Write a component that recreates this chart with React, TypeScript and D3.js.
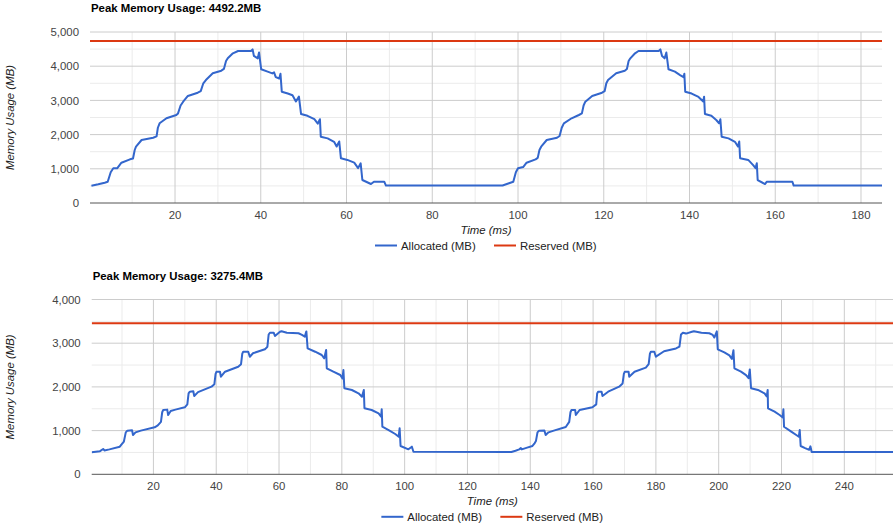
import React from "react";
import * as d3 from "d3";

// ---------- DATA ----------
const topTitle = "Peak Memory Usage: 4492.2MB";
const bottomTitle = "Peak Memory Usage: 3275.4MB";
const seriesNames = ["Allocated (MB)", "Reserved (MB)"];
const xAxisTitle = "Time (ms)";
const yAxisTitle = "Memory Usage (MB)";

const topXTicks = [20, 40, 60, 80, 100, 120, 140, 160, 180];
const topYTicks = [0, 1000, 2000, 3000, 4000, 5000];
const bottomXTicks = [20, 40, 60, 80, 100, 120, 140, 160, 180, 200, 220, 240];
const bottomYTicks = [0, 1000, 2000, 3000, 4000];

const topReserved: [number, number][] = [[0.17, 4740], [184.9, 4740]];
const bottomReserved: [number, number][] = [[0.35, 3455], [255.5, 3455]];

const topAllocated: [number, number][] = [
  [0.5, 506], [2.1, 547], [3.6, 594], [4.3, 620], [5.0, 900], [5.6, 1015], [6.5, 1015], [7.5, 1178],
  [9.5, 1277], [10.2, 1300], [10.6, 1550], [10.9, 1646], [12.2, 1842], [14.9, 1909], [15.7, 1950],
  [16.0, 2200], [16.4, 2330], [18.0, 2477], [20.3, 2573], [20.7, 2620], [21.3, 2850], [21.9, 2962],
  [23.0, 3129], [25.3, 3225], [26.0, 3270], [26.6, 3500], [27.2, 3596], [28.8, 3792], [30.8, 3869],
  [31.4, 3920], [31.9, 4150], [32.3, 4230], [33.5, 4377], [34.7, 4444], [37.7, 4444], [38.1, 4492],
  [38.4, 4300], [39.3, 4230], [39.6, 4400], [40.1, 3909], [41.6, 3840], [42.7, 3790], [43.1, 3820],
  [43.5, 3680], [44.3, 3640], [44.6, 3780], [44.9, 3255], [46.3, 3200], [47.4, 3150], [48.2, 2970],
  [48.9, 3110], [49.4, 2602], [50.9, 2550], [52.5, 2450], [53.3, 2320], [53.8, 2450], [54.0, 1939],
  [55.6, 1890], [57.1, 1790], [57.7, 1650], [58.3, 1800], [58.7, 1307], [60.2, 1260], [61.8, 1180],
  [62.7, 1020], [63.3, 1160], [63.7, 672], [65.7, 555], [66.4, 623], [68.8, 623], [69.2, 510],
  [96.4, 510], [97.9, 576], [98.9, 620], [99.5, 900], [100.0, 1015], [101.2, 1050], [102.0, 1178],
  [104.1, 1277], [104.6, 1320], [105.0, 1550], [105.4, 1646], [106.7, 1842], [109.1, 1909],
  [109.7, 1960], [110.2, 2200], [110.7, 2330], [112.5, 2477], [114.2, 2573], [114.9, 2620],
  [115.3, 2850], [115.7, 2962], [117.3, 3129], [119.6, 3225], [120.2, 3270], [120.6, 3500],
  [121.0, 3596], [122.9, 3792], [124.9, 3869], [125.4, 3920], [125.8, 4150], [126.2, 4230],
  [127.3, 4377], [128.1, 4444], [132.8, 4444], [133.2, 4492], [133.6, 4300], [134.2, 4230],
  [134.6, 4400], [135.1, 3909], [136.6, 3840], [137.8, 3740], [138.6, 3680], [138.8, 3780],
  [139.0, 3255], [140.5, 3200], [142.1, 3100], [143.2, 2970], [143.4, 3110], [143.6, 2602],
  [145.1, 2550], [146.3, 2420], [146.9, 2330], [147.2, 2450], [147.5, 1939], [149.1, 1890],
  [150.6, 1790], [151.3, 1650], [151.6, 1800], [151.8, 1307], [153.7, 1260], [154.9, 1100],
  [155.4, 1020], [155.7, 1160], [155.9, 672], [157.6, 555], [158.0, 620], [164.0, 620],
  [164.3, 510], [184.9, 510],
];

const bottomAllocated: [number, number][] = [
  [0.35, 503], [3.0, 530], [4.0, 580], [4.4, 545], [6.0, 570], [9.3, 632], [9.8, 680], [10.6, 750],
  [11.2, 960], [11.7, 998], [13.2, 1010], [13.5, 899], [14.3, 960], [16.0, 1000], [20.4, 1075],
  [21.4, 1120], [22.4, 1200], [22.8, 1420], [23.1, 1471], [24.4, 1480], [24.7, 1357], [25.5, 1450],
  [27.0, 1480], [30.0, 1533], [30.8, 1600], [31.2, 1850], [31.6, 1890], [32.7, 1900], [33.0, 1792],
  [34.2, 1880], [38.5, 2005], [39.4, 2060], [39.8, 2300], [40.1, 2348], [41.2, 2348], [41.5, 2233],
  [42.8, 2348], [47.0, 2462], [47.9, 2520], [48.3, 2760], [48.6, 2805], [50.2, 2805], [50.7, 2691],
  [51.7, 2770], [55.5, 2860], [56.3, 2920], [56.7, 3200], [57.1, 3240], [58.3, 3240], [58.7, 3165],
  [60.3, 3263], [60.8, 3275], [62.5, 3240], [66.2, 3227], [67.3, 3190], [68.2, 3150], [68.7, 3270],
  [69.1, 2883], [71.5, 2805], [73.6, 2730], [74.4, 2654], [75.0, 2844], [75.2, 2426], [77.3, 2348],
  [79.5, 2272], [80.2, 2196], [80.5, 2387], [80.8, 1968], [83.2, 1929], [85.3, 1853], [86.4, 1776],
  [87.0, 1929], [87.2, 1510], [89.5, 1471], [91.7, 1395], [92.5, 1319], [92.7, 1487], [92.9, 1089],
  [94.9, 1013], [97.0, 922], [98.1, 861], [98.4, 1052], [98.7, 648], [101.2, 572], [102.3, 632],
  [102.8, 517], [134.0, 510], [135.3, 540], [136.5, 570], [137.0, 600], [137.3, 570], [139.0, 610],
  [140.7, 648], [141.3, 700], [141.8, 760], [142.3, 960], [142.8, 998], [144.5, 1000], [144.9, 899],
  [145.8, 960], [147.5, 1000], [151.3, 1083], [152.4, 1200], [152.8, 1420], [153.1, 1471],
  [154.3, 1471], [154.5, 1357], [155.7, 1471], [159.8, 1533], [161.0, 1600], [161.3, 1850],
  [161.6, 1890], [162.7, 1890], [163.0, 1792], [164.8, 1890], [168.3, 2005], [169.4, 2080],
  [169.8, 2300], [170.1, 2348], [171.3, 2348], [171.5, 2233], [173.2, 2348], [176.8, 2440],
  [177.7, 2520], [178.1, 2760], [178.4, 2805], [179.5, 2805], [180.0, 2691], [182.6, 2815],
  [186.4, 2880], [187.5, 2920], [188.0, 3200], [188.6, 3240], [189.6, 3220], [191.5, 3263],
  [192.1, 3275], [194.5, 3240], [197.0, 3227], [198.1, 3190], [198.6, 3130], [199.4, 3270],
  [199.7, 2860], [201.8, 2790], [203.4, 2720], [204.2, 2640], [204.7, 2840], [205.0, 2426],
  [207.1, 2350], [208.7, 2270], [209.5, 2200], [209.9, 2400], [210.3, 1968], [212.5, 1930],
  [214.6, 1853], [215.3, 1780], [215.6, 1930], [215.7, 1510], [217.8, 1433], [219.4, 1357],
  [220.4, 1300], [220.6, 1487], [220.8, 1089], [223.1, 975], [224.7, 899], [225.5, 860],
  [225.8, 1013], [226.1, 648], [227.5, 600], [228.8, 560], [229.2, 640], [229.6, 510], [255.5, 510],
];

// ---------- STYLE ----------
const FONT = "'Liberation Sans', Arial, sans-serif";
const BLUE = "#3366cc";
const RED = "#dc3912";
const FS = 11.4;

type ChartProps = {
  id: string;
  title: string;
  titleY: number;
  left: number;
  right: number;
  top: number;
  bottom: number;
  xDomain: [number, number];
  yMax: number;
  xTicks: number[];
  yTicks: number[];
  allocated: [number, number][];
  reserved: [number, number][];
};

function Chart(p: ChartProps) {
  const x = d3.scaleLinear().domain(p.xDomain).range([p.left, p.right]);
  const y = d3.scaleLinear().domain([0, p.yMax]).range([p.bottom, p.top]);
  const line = d3
    .line<[number, number]>()
    .x((d) => x(d[0]))
    .y((d) => y(d[1]));

  const xMinor = d3.range(10, p.xDomain[1], 20).filter((v) => v > p.xDomain[0]);
  const yMinor = d3.range(500, p.yMax, 1000);
  const cx = (p.left + p.right) / 2;
  const cy = (p.top + p.bottom) / 2;
  const legendY = p.bottom + 42.5;
  const legendStart = cx - 111;

  return (
    <g>
      <defs>
        <clipPath id={p.id}>
          <rect x={p.left} y={p.top - 5} width={p.right - p.left} height={p.bottom - p.top + 5} />
        </clipPath>
      </defs>
      <text x={p.left + 1} y={p.titleY} fontFamily={FONT} fontSize={FS} fontWeight="bold" fill="#000">
        {p.title}
      </text>
      {/* minor grid */}
      {xMinor.map((v) => (
        <line key={"xm" + v} x1={x(v)} x2={x(v)} y1={p.top} y2={p.bottom} stroke="#ebebeb" strokeWidth={1} />
      ))}
      {yMinor.map((v) => (
        <line key={"ym" + v} x1={p.left} x2={p.right} y1={y(v)} y2={y(v)} stroke="#ebebeb" strokeWidth={1} />
      ))}
      {/* major grid */}
      {p.xTicks.map((v) => (
        <line key={"xg" + v} x1={x(v)} x2={x(v)} y1={p.top} y2={p.bottom} stroke="#cccccc" strokeWidth={1} />
      ))}
      {p.yTicks
        .filter((v) => v > 0)
        .map((v) => (
          <line key={"yg" + v} x1={p.left} x2={p.right} y1={y(v)} y2={y(v)} stroke="#cccccc" strokeWidth={1} />
        ))}
      {/* baseline */}
      <line x1={p.left} x2={p.right} y1={y(0)} y2={y(0)} stroke="#555" strokeWidth={1} />
      {/* tick labels */}
      {p.yTicks.map((v) => (
        <text
          key={"yl" + v}
          x={p.left - 11}
          y={y(v)}
          dy="0.36em"
          textAnchor="end"
          fontFamily={FONT}
          fontSize={FS}
          fill="#444"
        >
          {d3.format(",")(v)}
        </text>
      ))}
      {p.xTicks.map((v) => (
        <text
          key={"xl" + v}
          x={x(v)}
          y={p.bottom + 15.5}
          textAnchor="middle"
          fontFamily={FONT}
          fontSize={FS}
          fill="#444"
        >
          {v}
        </text>
      ))}
      {/* axis titles */}
      <text x={cx} y={p.bottom + 31} textAnchor="middle" fontFamily={FONT} fontSize={FS} fontStyle="italic" fill="#222">
        {xAxisTitle}
      </text>
      <text
        transform={`translate(14,${cy}) rotate(-90)`}
        textAnchor="middle"
        fontFamily={FONT}
        fontSize={FS}
        fontStyle="italic"
        fill="#222"
      >
        {yAxisTitle}
      </text>
      {/* series */}
      <g clipPath={`url(#${p.id})`}>
        <path d={line(p.reserved) || ""} fill="none" stroke={RED} strokeWidth={2} />
        <path d={line(p.allocated) || ""} fill="none" stroke={BLUE} strokeWidth={2} strokeLinejoin="round" />
      </g>
      {/* legend */}
      <line x1={legendStart} x2={legendStart + 22} y1={legendY} y2={legendY} stroke={BLUE} strokeWidth={2} />
      <text x={legendStart + 26} y={legendY} dy="0.36em" fontFamily={FONT} fontSize={FS} fill="#222">
        {seriesNames[0]}
      </text>
      <line x1={legendStart + 119} x2={legendStart + 141} y1={legendY} y2={legendY} stroke={RED} strokeWidth={2} />
      <text x={legendStart + 145} y={legendY} dy="0.36em" fontFamily={FONT} fontSize={FS} fill="#222">
        {seriesNames[1]}
      </text>
    </g>
  );
}

export default function App() {
  return (
    <svg
      width={894}
      height={526}
      style={{ position: "absolute", left: 0, top: 0, background: "#fff" }}
    >
      <rect width={894} height={526} fill="#fff" />
      <Chart
        id="clipTop"
        title={topTitle}
        titleY={11.5}
        left={90}
        right={882}
        top={32}
        bottom={203}
        xDomain={[0.17, 184.9]}
        yMax={5000}
        xTicks={topXTicks}
        yTicks={topYTicks}
        allocated={topAllocated}
        reserved={topReserved}
      />
      <Chart
        id="clipBottom"
        title={bottomTitle}
        titleY={279.5}
        left={91.7}
        right={893}
        top={299.5}
        bottom={474.3}
        xDomain={[0.35, 255.5]}
        yMax={4000}
        xTicks={bottomXTicks}
        yTicks={bottomYTicks}
        allocated={bottomAllocated}
        reserved={bottomReserved}
      />
    </svg>
  );
}
